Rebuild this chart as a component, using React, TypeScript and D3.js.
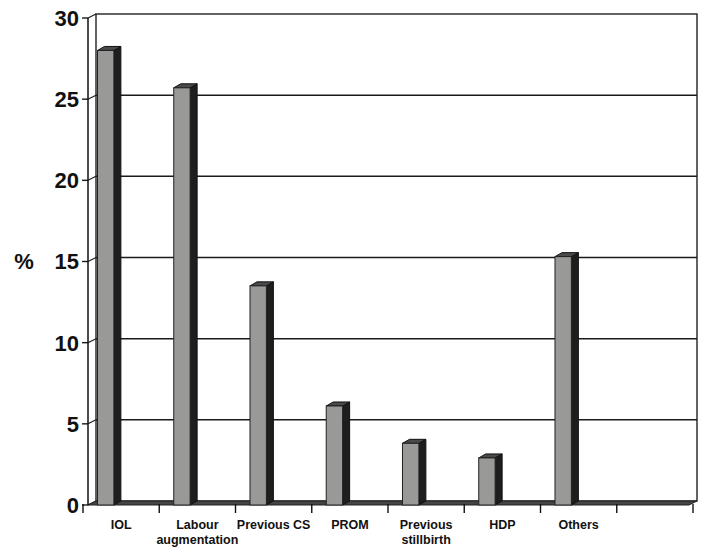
import React from "react";
import * as d3 from "d3";

const categories: string[][] = [
  ["IOL"],
  ["Labour", "augmentation"],
  ["Previous CS"],
  ["PROM"],
  ["Previous", "stillbirth"],
  ["HDP"],
  ["Others"],
  [],
];
const values: number[] = [28, 25.7, 13.5, 6.1, 3.8, 2.9, 15.3];
const yTicks: number[] = [0, 5, 10, 15, 20, 25, 30];
const yLabel = "%";

const W = 707;
const H = 550;
const axisX = 88;
const wallRight = 697;
const DX = 8;
const DY = -4;

export default function App() {
  const y = d3.scaleLinear().domain([0, 30]).range([505, 18]);
  const x = d3
    .scaleBand<number>()
    .domain(categories.map((_, i) => i))
    .range([83, 693])
    .padding(0);
  const bw = x.bandwidth();
  const barW = bw * 0.215;
  const bdx = 7;
  const bdy = -4;
  const font = "'Liberation Sans', Arial, sans-serif";

  return (
    <svg
      width={W}
      height={H}
      style={{ position: "absolute", left: 0, top: 0, background: "#fff" }}
    >
      <rect x={0} y={0} width={W} height={H} fill="#fff" />
      {/* back wall */}
      <rect
        x={axisX + DX}
        y={y(30) + DY}
        width={wallRight - axisX - DX}
        height={y(0) - y(30)}
        fill="#fff"
        stroke="#222"
        strokeWidth={1.4}
      />
      {/* gridlines */}
      {yTicks.map((t) => (
        <g key={"g" + t}>
          {t > 0 && t < 30 && (
            <line
              x1={axisX + DX}
              x2={wallRight}
              y1={y(t) + DY}
              y2={y(t) + DY}
              stroke="#1a1a1a"
              strokeWidth={1.5}
            />
          )}
          <line
            x1={axisX}
            y1={y(t)}
            x2={axisX + DX}
            y2={y(t) + DY}
            stroke="#1a1a1a"
            strokeWidth={1.2}
          />
          <line
            x1={82}
            x2={axisX}
            y1={y(t)}
            y2={y(t)}
            stroke="#1a1a1a"
            strokeWidth={1.4}
          />
          <text
            x={79}
            y={y(t)}
            dy="0.36em"
            textAnchor="end"
            fontFamily={font}
            fontWeight="bold"
            fontSize={22}
            fill="#111"
          >
            {t}
          </text>
        </g>
      ))}
      {/* floor */}
      <polygon
        points={`${axisX},${y(0)} ${wallRight - DX},${y(0)} ${wallRight},${
          y(0) + DY
        } ${axisX + DX},${y(0) + DY}`}
        fill="#444"
        stroke="#222"
        strokeWidth={1}
      />
      {/* front y axis */}
      <line
        x1={axisX}
        x2={axisX}
        y1={y(0)}
        y2={y(30)}
        stroke="#111"
        strokeWidth={1.5}
      />
      {/* bars */}
      {values.map((v, i) => {
        const x0 = (x(i) as number) + bw * 0.19;
        const x1 = x0 + barW;
        const yt = y(v);
        const yb = y(0);
        return (
          <g key={"b" + i}>
            <polygon
              points={`${x1},${yt} ${x1 + bdx},${yt + bdy} ${x1 + bdx},${
                yb + bdy
              } ${x1},${yb}`}
              fill="#1e1e1e"
              stroke="#111"
              strokeWidth={1}
            />
            <polygon
              points={`${x0},${yt} ${x0 + bdx},${yt + bdy} ${x1 + bdx},${
                yt + bdy
              } ${x1},${yt}`}
              fill="#4a4a4a"
              stroke="#111"
              strokeWidth={1}
            />
            <rect
              x={x0}
              y={yt}
              width={barW}
              height={yb - yt}
              fill="#999997"
              stroke="#222"
              strokeWidth={1}
            />
          </g>
        );
      })}
      {/* x ticks */}
      {d3.range(categories.length + 1).map((i) => {
        const xx = 83 + i * bw;
        return (
          <line
            key={"xt" + i}
            x1={xx}
            x2={xx}
            y1={y(0) - 1}
            y2={y(0) + 8}
            stroke="#111"
            strokeWidth={1.4}
          />
        );
      })}
      {/* x labels */}
      {categories.map((lines, i) => (
        <text
          key={"xl" + i}
          x={(x(i) as number) + bw / 2}
          y={529}
          textAnchor="middle"
          fontFamily={font}
          fontWeight="bold"
          fontSize={12.5}
          fill="#111"
        >
          {lines.map((l, j) => (
            <tspan key={j} x={(x(i) as number) + bw / 2} dy={j === 0 ? 0 : 15}>
              {l}
            </tspan>
          ))}
        </text>
      ))}
      {/* y label */}
      <text
        x={24}
        y={y(15)}
        dy="0.36em"
        textAnchor="middle"
        fontFamily={font}
        fontWeight="bold"
        fontSize={22}
        fill="#111"
      >
        {yLabel}
      </text>
    </svg>
  );
}
